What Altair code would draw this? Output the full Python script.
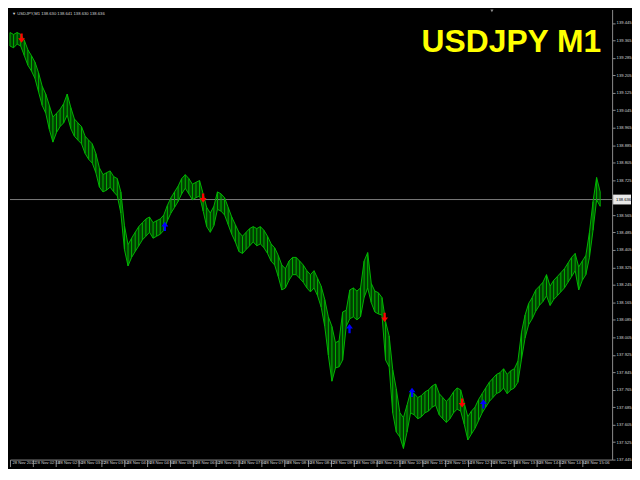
import json
import altair as alt
import pandas as pd

# ---------------- data ----------------
T0 = 106            # 01:46 on 28 Nov 2022 (minutes after midnight)
T_MAX = 947.7
P_MIN, P_MAX = 137.445, 139.5065
CUR_PRICE = 138.636

x_tick_values = [106, 138, 170, 202, 234, 266, 298, 330, 362, 394, 426, 458, 490,
                 522, 554, 586, 618, 650, 682, 714, 746, 778, 810, 842, 874, 906]
x_tick_labels = ["28 Nov 2022", "28 Nov 02:18", "28 Nov 02:50", "28 Nov 03:22",
                 "28 Nov 03:54", "28 Nov 04:26", "28 Nov 04:58", "28 Nov 05:30",
                 "28 Nov 06:02", "28 Nov 06:34", "28 Nov 07:06", "28 Nov 07:38",
                 "28 Nov 08:10", "28 Nov 08:42", "28 Nov 09:14", "28 Nov 09:46",
                 "28 Nov 10:18", "28 Nov 10:50", "28 Nov 11:22", "28 Nov 11:54",
                 "28 Nov 12:26", "28 Nov 12:58", "28 Nov 13:30", "28 Nov 14:02",
                 "28 Nov 14:34", "28 Nov 15:06"]
# 138.645 sits under the current-price box in the reference, so it is not labelled
y_tick_values = [137.445, 137.525, 137.605, 137.685, 137.765, 137.845, 137.925,
                 138.005, 138.085, 138.165, 138.245, 138.325, 138.405, 138.485,
                 138.565, 138.725, 138.805, 138.885, 138.965, 139.045,
                 139.125, 139.205, 139.285, 139.365, 139.445]

highs = [139.401, 139.392, 139.401, 139.392, 139.366, 139.322, 139.295, 139.265, 139.216, 139.155,
         139.119, 139.067, 139.014, 139.031, 139.049, 139.075, 139.119, 139.058, 139.005, 138.987,
         138.970, 138.926, 138.908, 138.891, 138.847, 138.781, 138.750, 138.759, 138.767, 138.741,
         138.732, 138.671, 138.517, 138.429, 138.459, 138.486, 138.512, 138.530, 138.547, 138.556,
         138.530, 138.539, 138.547, 138.565, 138.609, 138.644, 138.671, 138.697, 138.732, 138.750,
         138.732, 138.706, 138.715, 138.723, 138.662, 138.600, 138.574, 138.605, 138.671, 138.662,
         138.644, 138.600, 138.556, 138.521, 138.486, 138.468, 138.486, 138.503, 138.512, 138.503,
         138.512, 138.495, 138.468, 138.433, 138.415, 138.380, 138.336, 138.319, 138.354, 138.371,
         138.371, 138.354, 138.336, 138.310, 138.292, 138.310, 138.275, 138.239, 138.178, 138.099,
         138.055, 137.980, 137.989, 138.121, 138.129, 138.222, 138.231, 138.217, 138.231, 138.354,
         138.393, 138.252, 138.217, 138.209, 138.187, 138.077, 138.011, 137.857, 137.769, 137.659,
         137.637, 137.694, 137.755, 137.747, 137.729, 137.738, 137.755, 137.764, 137.782, 137.791,
         137.747, 137.729, 137.711, 137.729, 137.755, 137.773, 137.764, 137.703, 137.641, 137.667,
         137.685, 137.720, 137.747, 137.773, 137.799, 137.817, 137.835, 137.843, 137.861, 137.835,
         137.852, 137.861, 137.896, 138.028, 138.107, 138.160, 138.187, 138.222, 138.239, 138.257,
         138.292, 138.239, 138.266, 138.283, 138.301, 138.319, 138.345, 138.371, 138.389, 138.327,
         138.354, 138.380, 138.486, 138.627, 138.737, 138.671]
lows = [139.339, 139.331, 139.348, 139.339, 139.295, 139.251, 139.225, 139.190, 139.128, 139.067,
        139.031, 138.957, 138.899, 138.943, 138.970, 138.987, 139.023, 138.961, 138.926, 138.908,
        138.891, 138.847, 138.820, 138.803, 138.759, 138.693, 138.671, 138.679, 138.693, 138.671,
        138.653, 138.574, 138.407, 138.332, 138.371, 138.398, 138.424, 138.451, 138.468, 138.486,
        138.459, 138.468, 138.477, 138.495, 138.539, 138.574, 138.600, 138.627, 138.662, 138.688,
        138.662, 138.635, 138.644, 138.653, 138.583, 138.512, 138.486, 138.517, 138.591, 138.583,
        138.565, 138.521, 138.477, 138.442, 138.398, 138.389, 138.407, 138.424, 138.442, 138.424,
        138.433, 138.415, 138.389, 138.354, 138.336, 138.283, 138.222, 138.231, 138.266, 138.292,
        138.292, 138.275, 138.257, 138.231, 138.213, 138.231, 138.195, 138.143, 138.055, 137.923,
        137.804, 137.865, 137.870, 137.901, 138.055, 138.090, 138.099, 138.085, 138.099, 138.187,
        138.231, 138.164, 138.121, 138.112, 138.107, 137.901, 137.870, 137.659, 137.571, 137.549,
        137.496, 137.571, 137.659, 137.650, 137.632, 137.641, 137.659, 137.667, 137.685, 137.694,
        137.650, 137.632, 137.615, 137.632, 137.659, 137.676, 137.667, 137.606, 137.535, 137.562,
        137.588, 137.623, 137.659, 137.685, 137.711, 137.729, 137.747, 137.755, 137.773, 137.747,
        137.764, 137.773, 137.799, 137.905, 138.002, 138.063, 138.090, 138.125, 138.151, 138.169,
        138.195, 138.151, 138.178, 138.195, 138.213, 138.231, 138.257, 138.283, 138.310, 138.222,
        138.266, 138.292, 138.371, 138.495, 138.635, 138.605]
times = list(range(T0, T0 + 5 * len(highs), 5))

sell_t = [122.2, 376.0, 629.7, 738.0]
sell_p = [139.375, 138.643, 138.096, 137.704]
buy_t = [322.5, 580.6, 668.0, 767.7]
buy_p = [138.513, 138.045, 137.753, 137.700]

# ---------------- tables ----------------
bars_df = pd.DataFrame({"t": times, "hi": highs, "lo": lows})

W, H = 606, 453
GREEN = "#00b400"
GREEN_DARK = "#005a00"
AXIS_GRAY = "#8c8c8c"
LABEL_GRAY = "#d2d2d2"
FONT = "Liberation Sans"

x_scale = alt.Scale(domain=[T0, T_MAX], nice=False, zero=False)
y_scale = alt.Scale(domain=[P_MIN, P_MAX], nice=False, zero=False)

label_expr = (json.dumps(x_tick_labels) + "[indexof(" + json.dumps(x_tick_values)
              + ", datum.value)]")

x_axis = alt.Axis(values=x_tick_values, labelExpr=label_expr, orient="bottom",
                  labelAlign="left", labelBaseline="top", labelFontSize=4.2,
                  labelColor=LABEL_GRAY, labelFont=FONT, tickSize=7, tickColor=AXIS_GRAY,
                  labelPadding=-6, labelOffset=2, domainColor=AXIS_GRAY, title=None,
                  grid=False, labelOverlap=False, labelFlush=False, labelBound=False)
y_axis = alt.Axis(values=y_tick_values, format=".3f", orient="right", labelFontSize=4.2,
                  labelColor=LABEL_GRAY, labelFont=FONT, tickSize=3, tickColor=AXIS_GRAY,
                  labelPadding=1, domainColor=AXIS_GRAY, title=None, grid=False,
                  labelOverlap=False, labelFlush=False, labelBound=False)


def X(field):
    return alt.X(field, scale=x_scale, axis=x_axis)


def Y(field):
    return alt.Y(field, scale=y_scale, axis=y_axis)


band = alt.Chart(bars_df).mark_area(color=GREEN_DARK, opacity=0.7).encode(
    x=X("t:Q"), y=Y("lo:Q"), y2="hi:Q")
edge_hi = alt.Chart(bars_df).mark_line(color=GREEN, strokeWidth=1).encode(
    x=X("t:Q"), y=Y("hi:Q"))
edge_lo = alt.Chart(bars_df).mark_line(color=GREEN, strokeWidth=1).encode(
    x=X("t:Q"), y=Y("lo:Q"))
bars = alt.Chart(bars_df).mark_rule(color=GREEN, strokeWidth=1).encode(
    x=X("t:Q"), y=Y("lo:Q"), y2="hi:Q")

cur_df = pd.DataFrame({"p": [CUR_PRICE], "s": ["138.636"]})
cur_rule = alt.Chart(cur_df).mark_rule(color="#7a7a7a", strokeWidth=1).encode(y=Y("p:Q"))
box_path = "M-1,-0.55L1,-0.55L1,0.55L-1,0.55Z"
cur_box = alt.Chart(cur_df).mark_point(shape=box_path, filled=True, size=324,
                                       color="#e8e8e8", opacity=1, strokeWidth=0).encode(
    x=alt.value(W + 10), y=Y("p:Q"))
cur_text = alt.Chart(cur_df).mark_text(fontSize=4.2, font=FONT, color="#000000",
                                       align="left", baseline="middle").encode(
    x=alt.value(W + 4), y=Y("p:Q"), text="s:N")

down_path = "M-0.25,-1L0.25,-1L0.25,0L0.75,0L0,1L-0.75,0L-0.25,0Z"
up_path = "M-0.25,1L0.25,1L0.25,0L0.75,0L0,-1L-0.75,0L-0.25,0Z"
sell = alt.Chart(pd.DataFrame({"t": sell_t, "p": sell_p})).mark_point(
    shape=down_path, filled=True, size=85, color="#ff0000", opacity=1, strokeWidth=0).encode(
    x=X("t:Q"), y=Y("p:Q"))
buy = alt.Chart(pd.DataFrame({"t": buy_t, "p": buy_p})).mark_point(
    shape=up_path, filled=True, size=85, color="#0000ff", opacity=1, strokeWidth=0).encode(
    x=X("t:Q"), y=Y("p:Q"))

title = alt.Chart(pd.DataFrame({"s": ["USDJPY M1"]})).mark_text(
    fontSize=32, font=FONT, fontWeight="bold", color="#ffff00", align="right",
    baseline="alphabetic").encode(x=alt.value(595), y=alt.value(43), text="s:N")

header = alt.Chart(pd.DataFrame({"s": ["\u25bc USDJPY,M1  138.630 138.641 138.630 138.636"]})).mark_text(
    fontSize=4.2, font=FONT, color=LABEL_GRAY, align="left", baseline="middle").encode(
    x=alt.value(2), y=alt.value(5), text="s:N")

shift_mark = alt.Chart(pd.DataFrame({"s": ["x"]})).mark_point(
    shape="triangle-down", filled=True, size=10, color=AXIS_GRAY, opacity=1).encode(
    x=alt.value(485), y=alt.value(1.5))

chart = alt.layer(band, cur_rule, edge_hi, edge_lo, bars, sell, buy, cur_box, cur_text,
                  title, header, shift_mark).properties(
    width=W, height=H, background="#000000", padding=0
).configure_view(stroke=None)

chart.save("out.html", embed_options={"renderer": "svg", "actions": False})
